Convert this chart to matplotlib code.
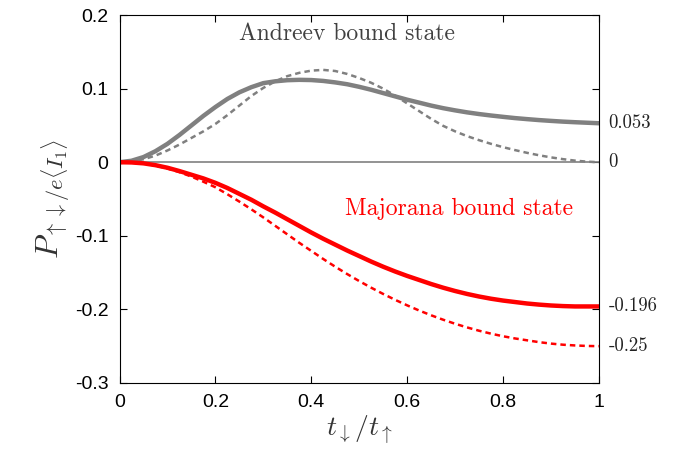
import matplotlib
matplotlib.use('Agg')
import matplotlib.pyplot as plt

plt.rcParams['font.family'] = ['Liberation Sans', 'DejaVu Sans']
plt.rcParams['mathtext.fontset'] = 'cm'
plt.rcParams['axes.unicode_minus'] = False

# curves
x = [0, 0.025, 0.05, 0.075, 0.1, 0.125, 0.15, 0.175, 0.2, 0.225, 0.25, 0.275, 0.3, 0.325,
     0.35, 0.375, 0.4, 0.425, 0.45, 0.475, 0.5, 0.525, 0.55, 0.575, 0.6, 0.625, 0.65, 0.675,
     0.7, 0.725, 0.75, 0.775, 0.8, 0.825, 0.85, 0.875, 0.9, 0.925, 0.95, 0.975, 1.0]
andreev_solid = [0, 0.002, 0.007, 0.015, 0.025, 0.037, 0.050, 0.063, 0.075, 0.086, 0.095, 0.102,
                 0.1075, 0.110, 0.1115, 0.112, 0.1117, 0.1105, 0.1085, 0.106, 0.1025, 0.0985,
                 0.094, 0.0895, 0.085, 0.081, 0.077, 0.0735, 0.0705, 0.0678, 0.0655, 0.0635,
                 0.0617, 0.060, 0.0586, 0.0573, 0.0562, 0.0552, 0.0544, 0.0537, 0.053]
andreev_dash = [0, 0.001, 0.004, 0.009, 0.016, 0.024, 0.033, 0.042, 0.052, 0.064, 0.077, 0.090,
                0.101, 0.110, 0.117, 0.1215, 0.1245, 0.1255, 0.124, 0.120, 0.1145, 0.108, 0.100,
                0.0905, 0.080, 0.0695, 0.059, 0.0495, 0.042, 0.0355, 0.030, 0.025, 0.0205,
                0.0165, 0.0128, 0.0095, 0.0066, 0.0042, 0.0022, 0.0008, 0.0]
majorana_solid = [0, -0.0003, -0.0015, -0.004, -0.0075, -0.012, -0.017, -0.022, -0.028, -0.035,
                  -0.043, -0.051, -0.060, -0.0685, -0.0775, -0.0865, -0.0955, -0.104, -0.112,
                  -0.120, -0.1275, -0.135, -0.142, -0.1485, -0.1545, -0.160, -0.1655, -0.1705,
                  -0.175, -0.179, -0.1825, -0.1855, -0.188, -0.190, -0.192, -0.1935, -0.1947,
                  -0.1955, -0.196, -0.196, -0.196]
majorana_dash = [0, -0.0004, -0.0018, -0.0045, -0.0085, -0.0135, -0.0195, -0.0265, -0.034, -0.0435,
                 -0.0535, -0.064, -0.075, -0.0865, -0.098, -0.1095, -0.1205, -0.1315, -0.142,
                 -0.152, -0.1615, -0.1705, -0.179, -0.187, -0.1945, -0.2015, -0.208, -0.214,
                 -0.2195, -0.2245, -0.229, -0.233, -0.2365, -0.2395, -0.242, -0.2445, -0.2465,
                 -0.248, -0.249, -0.2497, -0.25]

end_values = [0.053, 0, -0.196, -0.25]
end_labels = ['0.053', '0', '-0.196', '-0.25']

fig = plt.figure(figsize=(6.79, 4.57), dpi=100)
ax = fig.add_axes([0.176, 0.162, 0.706, 0.805])

ax.axhline(0, color='gray', lw=1.2)
ax.plot(x, andreev_solid, color='gray', lw=3.2)
ax.plot(x, andreev_dash, color='gray', lw=1.8, ls=(0, (2.2, 1.6)))
ax.plot(x, majorana_solid, color='red', lw=3.2)
ax.plot(x, majorana_dash, color='red', lw=1.8, ls=(0, (2.2, 1.6)))

ax.set_xlim(0, 1)
ax.set_ylim(-0.3, 0.2)
ax.set_xticks([0, 0.2, 0.4, 0.6, 0.8, 1])
ax.set_xticklabels(['0', '0.2', '0.4', '0.6', '0.8', '1'])
ax.set_yticks([-0.3, -0.2, -0.1, 0, 0.1, 0.2])
ax.set_yticklabels(['-0.3', '-0.2', '-0.1', '0', '0.1', '0.2'])
ax.tick_params(direction='in', top=True, right=True, labelsize=14, length=5, pad=8)

ax.set_xlabel(r'$t_{\downarrow}/t_{\uparrow}$', fontsize=20, color='#333333', labelpad=2)
ax.set_ylabel(r'$P_{\uparrow\downarrow/e\langle I_1\rangle}$', fontsize=23, color='#333333', labelpad=2)

ax.text(0.474, 0.175, 'Andreev bound state', fontsize=17, color='#404040',
        ha='center', va='center', family='cmr10')
ax.text(0.709, -0.063, 'Majorana bound state', fontsize=17, color='red',
        ha='center', va='center', family='cmr10')

for v, s in zip(end_values, end_labels):
    ax.text(1.02, v, s, fontsize=13.5, color='#222222', family='cmr10',
            ha='left', va='center', transform=ax.get_yaxis_transform())

fig.savefig('out.png', dpi=100)
